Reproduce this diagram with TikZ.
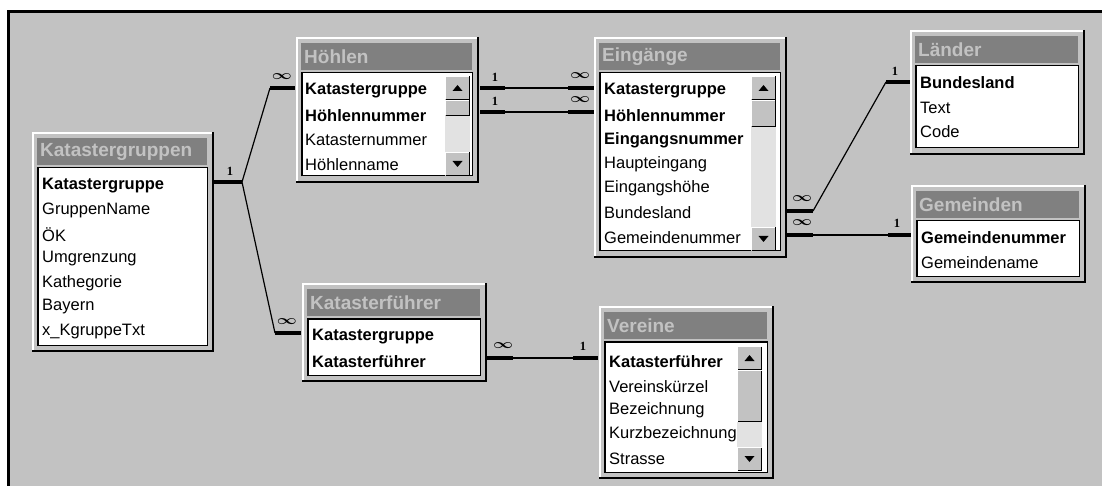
\documentclass[tikz,border=0pt]{standalone}
\usepackage{fontspec}
\setmainfont{Liberation Sans}
\newfontfamily\cardfont{Liberation Serif}
\usepackage{bm}
\usetikzlibrary{positioning,calc,fit}
\definecolor{accbg}{RGB}{194,194,194}
\definecolor{acctitle}{RGB}{128,128,128}
\definecolor{acctrack}{RGB}{226,226,226}

\begin{document}
\begin{tikzpicture}[x=1pt, y=-1pt,
  every node/.style={inner sep=0pt},
  field/.style={anchor=west, font=\fontsize{16.5}{18}\selectfont},
  ttl/.style={anchor=west, text=accbg, font=\fontsize{19}{20}\selectfont\bfseries},
  list/.style={fill=white, draw=black, line width=1pt},
  stub/.style={line width=4pt},
  rel/.style={line width=1.2pt},
  card/.style={font=\cardfont\bfseries\fontsize{12.5}{12.5}\selectfont},
  many/.style={font=\fontsize{13}{13}\selectfont}]
  \useasboundingbox (0,0) rectangle (1102,486);
  \fill[white] (0,0) rectangle (1102,486);
  \fill[accbg] (8.5,11.5) rectangle (1102,486);
  \draw[line width=3.5pt] (8.5,486) -- (8.5,11.5) -- (1102,11.5);

  % table windows
  \foreach \n/\xa/\ya/\xb/\yb/\t in {
      kg/32/132/214/352/Katastergruppen,
      ho/296/37/479/183/Höhlen,
      ei/594/37/787/258/Eingänge,
      la/910/30/1085/155/Länder,
      ge/911/185/1086/283/Gemeinden,
      kf/302/283/487/382/Katasterführer,
      ve/599/306/774/479/Vereine}{
    \fill[accbg] (\xa,\ya) rectangle (\xb,\yb);
    \draw[white, line width=1.5pt] (\xa+1,\yb-1) -- (\xa+1,\ya+1) -- (\xb-1,\ya+1);
    \draw[line width=2pt] (\xb-1,\ya) -- (\xb-1,\yb-1) -- (\xa,\yb-1);
    \fill[acctitle] (\xa+5,\ya+6) rectangle (\xb-7,\ya+33);
    \node[ttl] (\n T) at (\xa+8,\ya+20) {\t};
    \node[list, fit={(\xa+6,\ya+36) (\xb-7,\yb-7)}] (\n) {};
    \draw[line width=1.5pt] (\n.south west) |- (\n.north east);
  }

  % field names
  \foreach \f [count=\i from 0] in {{\bfseries Katastergruppe},GruppenName,ÖK,Umgrenzung,Kathegorie,Bayern,x\_KgruppeTxt}
    \node[field] (kg-\i) at (42,186+24.2*\i) {\f};
  \foreach \f [count=\i from 0] in {{\bfseries Katastergruppe},{\bfseries Höhlennummer},Katasternummer,Höhlenname}
    \node[field] (ho-\i) at (305,91+24.5*\i) {\f};
  \foreach \f [count=\i from 0] in {{\bfseries Katastergruppe},{\bfseries Höhlennummer},{\bfseries Eingangsnummer},Haupteingang,Eingangshöhe,Bundesland,Gemeindenummer}
    \node[field] (ei-\i) at (604,91+24.4*\i) {\f};
  \foreach \f [count=\i from 0] in {{\bfseries Bundesland},Text,Code}
    \node[field] (la-\i) at (920,83+24.5*\i) {\f};
  \foreach \f [count=\i from 0] in {{\bfseries Gemeindenummer},Gemeindename}
    \node[field] (ge-\i) at (921,238+24.5*\i) {\f};
  \foreach \f [count=\i from 0] in {{\bfseries Katastergruppe},{\bfseries Katasterführer}}
    \node[field] (kf-\i) at (312,337+24.5*\i) {\f};
  \foreach \f [count=\i from 0] in {{\bfseries Katasterführer},Vereinskürzel,Bezeichnung,Kurzbezeichnung,Strasse}
    \node[field] (ve-\i) at (609,362+24.2*\i) {\f};

  % scroll bars
  \foreach \sx/\sy/\ey/\ty in {445/76/176/116, 751/76/251/127, 737/346/471/422}{
    \fill[acctrack] (\sx,\sy) rectangle (\sx+25,\ey);
    \foreach \ba/\bb in {\sy/\sy+24, \sy+24/\ty, \ey-24/\ey}{
      \fill[accbg] (\sx,\ba) rectangle (\sx+25,\bb);
      \draw[white, line width=1pt] (\sx+.5,\bb-.5) |- (\sx+24.5,\ba+.5);
      \draw[line width=1pt] (\sx+24.5,\ba+.5) |- (\sx+.5,\bb-.5);
    }
    \fill (\sx+7.5,\sy+15) -- (\sx+17.5,\sy+15) -- (\sx+12.5,\sy+9) -- cycle;
    \fill (\sx+7.5,\ey-15) -- (\sx+17.5,\ey-15) -- (\sx+12.5,\ey-9) -- cycle;
  }

  % relationship end points
  \coordinate (r1a) at (214,182); \coordinate (r1b) at (242,182);
  \coordinate (r1c) at (270,88);  \coordinate (r1d) at (295,88);
  \coordinate (r2c) at (275,333); \coordinate (r2d) at (301,333);
  \coordinate (r3a) at (480,88);  \coordinate (r3b) at (505,88);
  \coordinate (r3c) at (568,88);  \coordinate (r3d) at (594,88);
  \coordinate (r4a) at (480,112); \coordinate (r4b) at (505,112);
  \coordinate (r4c) at (568,112); \coordinate (r4d) at (594,112);
  \coordinate (r5a) at (787,211); \coordinate (r5b) at (813,211);
  \coordinate (r5c) at (886,82);  \coordinate (r5d) at (910,82);
  \coordinate (r6a) at (787,235); \coordinate (r6b) at (813,235);
  \coordinate (r6c) at (888,235); \coordinate (r6d) at (911,235);
  \coordinate (r7a) at (487,358); \coordinate (r7b) at (513,358);
  \coordinate (r7c) at (573,358); \coordinate (r7d) at (598,358);

  \foreach \r in {1,3,4,5,6,7}{
    \draw[stub] (r\r a) -- (r\r b);
    \draw[rel] (r\r b) -- (r\r c);
    \draw[stub] (r\r c) -- (r\r d);
  }
  \draw[rel] (r1b) -- (r2c);
  \draw[stub] (r2c) -- (r2d);

  % cardinalities
  \node[card] (c1) at (230,171) {1};
  \node[many] (m1) at (282,77) {\scalebox{1.45}[1.1]{$\bm{\infty}$}};
  \node[many] (m2) at (287,322) {\scalebox{1.45}[1.1]{$\bm{\infty}$}};
  \node[card] (c3) at (495,77) {1};
  \node[card] (c4) at (495,101) {1};
  \node[many] (m3) at (580,76) {\scalebox{1.45}[1.1]{$\bm{\infty}$}};
  \node[many] (m4) at (580,100) {\scalebox{1.45}[1.1]{$\bm{\infty}$}};
  \node[many] (m5) at (802,199) {\scalebox{1.45}[1.1]{$\bm{\infty}$}};
  \node[many] (m6) at (802,223) {\scalebox{1.45}[1.1]{$\bm{\infty}$}};
  \node[card] (c5) at (895,71) {1};
  \node[card] (c6) at (897,223) {1};
  \node[many] (m7) at (503,346) {\scalebox{1.45}[1.1]{$\bm{\infty}$}};
  \node[card] (c7) at (583,346) {1};
\end{tikzpicture}
\end{document}
